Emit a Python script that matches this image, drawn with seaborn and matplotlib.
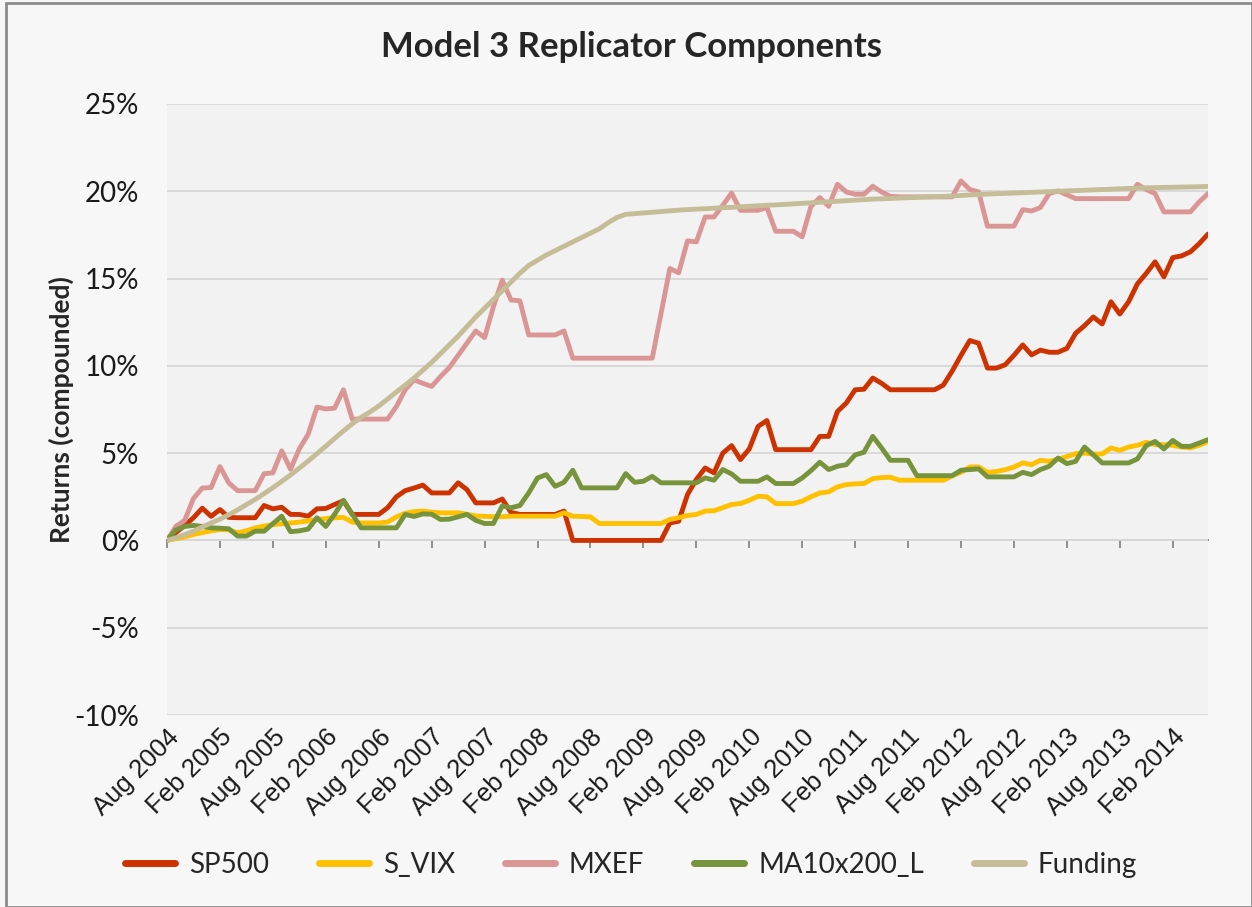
import pandas as pd
import numpy as np
import matplotlib.pyplot as plt
import seaborn as sns
from matplotlib.patches import Rectangle

# monthly points, Aug 2004 .. Jun 2014
months = pd.date_range("2004-08-01", "2014-06-01", freq="MS")
tick_labels = [m.strftime("%b %Y") for m in months[::6]]

series_names = ["SP500", "S_VIX", "MXEF", "MA10x200_L", "Funding"]
colors = ["#CC3300", "#FFC000", "#DA9694", "#77933C", "#C4BD97"]

sp500 = [0.0, 0.45, 0.85, 1.3, 1.85, 1.38, 1.77, 1.32, 1.3, 1.3,
         1.3, 2.0, 1.81, 1.9, 1.49, 1.49, 1.39, 1.81, 1.83, 2.06,
         2.27, 1.49, 1.49, 1.49, 1.49, 1.87, 2.5, 2.85, 3.0, 3.17,
         2.72, 2.72, 2.72, 3.3, 2.91, 2.15, 2.15, 2.15, 2.37, 1.6,
         1.49, 1.49, 1.49, 1.49, 1.49, 1.68, 0.0, 0.0, 0.0, 0.0,
         0.0, 0.0, 0.0, 0.0, 0.0, 0.0, 0.0, 1.0, 1.1, 2.63,
         3.49, 4.15, 3.87, 5.0, 5.43, 4.63, 5.24, 6.53, 6.87, 5.2,
         5.2, 5.2, 5.2, 5.2, 5.96, 5.96, 7.39, 7.87, 8.63, 8.66,
         9.3, 9.0, 8.63, 8.63, 8.63, 8.63, 8.63, 8.63, 8.9, 9.7,
         10.6, 11.45, 11.3, 9.87, 9.87, 10.06, 10.6, 11.2, 10.63, 10.9,
         10.78, 10.78, 11.0, 11.87, 12.3, 12.8, 12.4, 13.67, 12.97, 13.67,
         14.7, 15.3, 15.96, 15.1, 16.2, 16.3, 16.53, 17.0, 17.55]

s_vix = [0.0, 0.1, 0.2, 0.34, 0.45, 0.55, 0.62, 0.6, 0.44, 0.55,
         0.72, 0.82, 0.9, 0.95, 1.0, 1.05, 1.12, 1.2, 1.25, 1.3,
         1.32, 1.05, 1.0, 1.0, 1.0, 1.05, 1.35, 1.55, 1.65, 1.68,
         1.62, 1.58, 1.58, 1.58, 1.5, 1.4, 1.38, 1.36, 1.36, 1.39,
         1.39, 1.39, 1.39, 1.39, 1.39, 1.58, 1.39, 1.37, 1.35, 0.97,
         0.97, 0.97, 0.97, 0.97, 0.97, 0.97, 0.97, 1.2, 1.3, 1.43,
         1.49, 1.68, 1.7, 1.88, 2.06, 2.11, 2.3, 2.53, 2.5, 2.11,
         2.11, 2.11, 2.25, 2.5, 2.72, 2.78, 3.07, 3.2, 3.24, 3.26,
         3.54, 3.6, 3.62, 3.45, 3.45, 3.45, 3.45, 3.45, 3.45, 3.7,
         3.9, 4.21, 4.21, 3.9, 3.95, 4.05, 4.2, 4.44, 4.34, 4.59,
         4.53, 4.65, 4.8, 4.97, 5.0, 4.95, 4.95, 5.3, 5.16, 5.35,
         5.45, 5.62, 5.49, 5.49, 5.45, 5.35, 5.3, 5.45, 5.67]

mxef = [0.0, 0.8, 1.15, 2.4, 3.0, 3.03, 4.23, 3.3, 2.85, 2.85,
        2.85, 3.82, 3.87, 5.13, 4.08, 5.25, 6.08, 7.64, 7.53, 7.58,
        8.63, 6.95, 6.95, 6.95, 6.95, 6.95, 7.67, 8.63, 9.2, 9.0,
        8.82, 9.39, 9.9, 10.6, 11.3, 12.0, 11.62, 13.39, 14.91, 13.77,
        13.73, 11.77, 11.77, 11.77, 11.77, 12.0, 10.44, 10.44, 10.44, 10.44,
        10.44, 10.44, 10.44, 10.44, 10.44, 10.44, 13.0, 15.58, 15.33, 17.16,
        17.1, 18.53, 18.53, 19.2, 19.9, 18.91, 18.91, 18.91, 19.07, 17.71,
        17.71, 17.71, 17.39, 19.14, 19.64, 19.14, 20.4, 19.96, 19.83, 19.83,
        20.29, 19.96, 19.71, 19.68, 19.68, 19.68, 19.68, 19.68, 19.68, 19.68,
        20.59, 20.1, 19.96, 18.0, 18.0, 18.0, 18.0, 18.95, 18.87, 19.07,
        19.87, 20.02, 19.8, 19.58, 19.58, 19.58, 19.58, 19.58, 19.58, 19.58,
        20.4, 20.1, 19.87, 18.82, 18.82, 18.82, 18.82, 19.39, 19.87]

ma10x200 = [0.0, 0.6, 0.8, 0.86, 0.8, 0.72, 0.7, 0.67, 0.25, 0.25,
            0.53, 0.53, 0.96, 1.39, 0.5, 0.55, 0.65, 1.3, 0.8, 1.5,
            2.3, 1.5, 0.72, 0.72, 0.72, 0.72, 0.72, 1.49, 1.37, 1.52,
            1.5, 1.2, 1.22, 1.35, 1.49, 1.15, 0.97, 0.97, 1.98, 1.87,
            2.0, 2.72, 3.58, 3.77, 3.1, 3.33, 4.02, 3.01, 3.01, 3.01,
            3.01, 3.01, 3.83, 3.33, 3.39, 3.67, 3.3, 3.3, 3.3, 3.3,
            3.3, 3.58, 3.45, 4.06, 3.81, 3.39, 3.39, 3.39, 3.64, 3.26,
            3.26, 3.26, 3.58, 4.0, 4.48, 4.06, 4.25, 4.34, 4.9, 5.05,
            5.96, 5.3, 4.59, 4.59, 4.59, 3.71, 3.71, 3.71, 3.71, 3.71,
            4.02, 4.06, 4.1, 3.64, 3.64, 3.64, 3.64, 3.9, 3.77, 4.06,
            4.25, 4.72, 4.4, 4.53, 5.35, 4.9, 4.44, 4.44, 4.44, 4.44,
            4.67, 5.43, 5.67, 5.24, 5.73, 5.39, 5.39, 5.58, 5.77]

funding = [0.0, 0.15, 0.33, 0.53, 0.77, 1.0, 1.22, 1.47, 1.75, 2.05,
           2.35, 2.68, 3.02, 3.38, 3.75, 4.14, 4.55, 4.97, 5.4, 5.84,
           6.27, 6.68, 7.05, 7.35, 7.7, 8.1, 8.5, 8.9, 9.3, 9.75,
           10.2, 10.7, 11.2, 11.7, 12.25, 12.8, 13.3, 13.8, 14.3, 14.8,
           15.3, 15.75, 16.05, 16.35, 16.6, 16.85, 17.1, 17.35, 17.6, 17.85,
           18.2, 18.5, 18.68, 18.72, 18.76, 18.8, 18.84, 18.88, 18.92, 18.95,
           18.98, 19.0, 19.03, 19.06, 19.08, 19.11, 19.14, 19.17, 19.2, 19.22,
           19.25, 19.28, 19.31, 19.34, 19.37, 19.4, 19.43, 19.46, 19.49, 19.52,
           19.55, 19.57, 19.59, 19.61, 19.63, 19.65, 19.67, 19.69, 19.71, 19.73,
           19.76, 19.79, 19.82, 19.84, 19.86, 19.88, 19.9, 19.92, 19.94, 19.96,
           19.98, 20.0, 20.02, 20.04, 20.06, 20.08, 20.1, 20.12, 20.14, 20.16,
           20.18, 20.2, 20.21, 20.22, 20.23, 20.24, 20.25, 20.26, 20.28]

df = pd.DataFrame({"idx": np.arange(len(months)), "SP500": sp500, "S_VIX": s_vix,
                   "MXEF": mxef, "MA10x200_L": ma10x200, "Funding": funding})
long_df = df.melt(id_vars="idx", var_name="series", value_name="ret")

sns.set_style("white")
plt.rcParams["font.family"] = ["Lato", "DejaVu Sans"]

fig = plt.figure(figsize=(12.52, 9.07), dpi=100, facecolor="#F7F7F7")
ax = fig.add_axes([167 / 1252, 1 - 715 / 907, (1208 - 167) / 1252, (715 - 104) / 907])
ax.set_facecolor("#F2F2F2")

sns.lineplot(data=long_df, x="idx", y="ret", hue="series", hue_order=series_names,
             palette=colors, linewidth=3.5, ax=ax, legend=False)

ax.set_xlim(0, len(months) - 1)
ax.set_ylim(-10, 25)
yt = np.arange(-10, 26, 5)
ax.set_yticks(yt)
ax.set_yticklabels([f"{v}%" for v in yt], fontsize=20, color="#1a1a1a")
ax.grid(axis="y", color="#D9D9D9", linewidth=1.4)
ax.set_axisbelow(True)
for s in ax.spines.values():
    s.set_visible(False)

ax.set_xticks(df["idx"][::6])
ax.set_xticklabels(tick_labels, rotation=45, ha="right", rotation_mode="anchor",
                   fontsize=18.5, family="Liberation Sans", color="#1a1a1a")
ax.tick_params(axis="x", length=0, pad=7)
ax.tick_params(axis="y", length=0, pad=20)

ax.set_xlabel("")
ax.set_ylabel("Returns (compounded)", fontsize=19, fontweight="bold", labelpad=0)

# horizontal axis line through 0% with its tick marks
zero_ax = ax.secondary_xaxis(10 / 35)
zero_ax.set_xticks(df["idx"][::6])
zero_ax.tick_params(axis="x", direction="out", length=6, width=1.3, color="#868686",
                    labelbottom=False, labeltop=False)
for s in zero_ax.spines.values():
    s.set_color("#868686")
    s.set_linewidth(1.4)

fig.text(0.504, 1 - 47 / 907, "Model 3 Replicator Components", ha="center", va="center",
         fontsize=25, fontweight="bold")

handles = [plt.Line2D([0], [0], color=c, lw=5, solid_capstyle="round") for c in colors]
fig.legend(handles, series_names, loc="center", bbox_to_anchor=(0.504, 1 - 865 / 907),
           ncol=5, frameon=False, fontsize=20, handlelength=1.8, handletextpad=0.5,
           columnspacing=1.8)

fig.patches.append(Rectangle((6 / 1252, 0), 1 - 6 / 1252, 1 - 3 / 907, transform=fig.transFigure,
                             fill=False, edgecolor="#8C8C8C", linewidth=2))

plt.savefig("out.png", dpi=100, facecolor=fig.get_facecolor())
